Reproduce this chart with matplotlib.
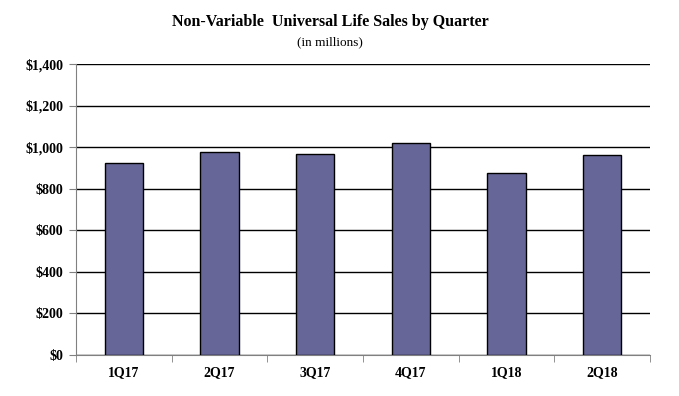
import numpy as np
import matplotlib
matplotlib.use('Agg')
import matplotlib.pyplot as plt

trimestres = ['1Q17', '2Q17', '3Q17', '4Q17', '1Q18', '2Q18']
ventas = [923, 979, 966, 1018, 878, 961]  # millones
marcas_y = [0, 200, 400, 600, 800, 1000, 1200, 1400]
etiquetas_y = ['$0', '$200', '$400', '$600', '$800', '$1,000', '$1,200', '$1,400']

plt.rcParams['font.family'] = ['Liberation Serif', 'DejaVu Serif']

fig = plt.figure(figsize=(6.79, 3.96), dpi=100)
ax = fig.add_axes([76/679, 41/396, 574/679, 291/396])

x = np.arange(len(trimestres))
ax.bar(x, ventas, width=0.4, color='#666699', edgecolor='black', linewidth=1, zorder=3)

ax.set_xlim(-0.5, len(trimestres) - 0.5)
ax.set_ylim(0, 1400)
ax.set_yticks(marcas_y)
ax.set_yticklabels(etiquetas_y, fontweight='bold', fontsize=10)
ax.yaxis.grid(True, color='black', linewidth=1, zorder=0)

# etiquetas centradas, marcas entre categorias
ax.set_xticks(x)
ax.set_xticklabels(trimestres, fontweight='bold', fontsize=10)
ax.tick_params(axis='x', length=0, pad=8)
ax.set_xticks(np.arange(-0.5, len(trimestres)), minor=True)
ax.tick_params(axis='x', which='minor', length=5, color='#808080', direction='out')
ax.tick_params(axis='y', length=5, color='#808080', direction='out', pad=4)

for lado in ['top', 'right']:
    ax.spines[lado].set_visible(False)
ax.spines['left'].set_color('#808080')
ax.spines['bottom'].set_color('#808080')

fig.text(330/679, 1 - 22/396, 'Non-Variable  Universal Life Sales by Quarter',
         ha='center', va='center', fontweight='bold', fontsize=11.5)
fig.text(330/679, 1 - 42/396, '(in millions)', ha='center', va='center', fontsize=9.5)

plt.savefig('out.png', dpi=100)
